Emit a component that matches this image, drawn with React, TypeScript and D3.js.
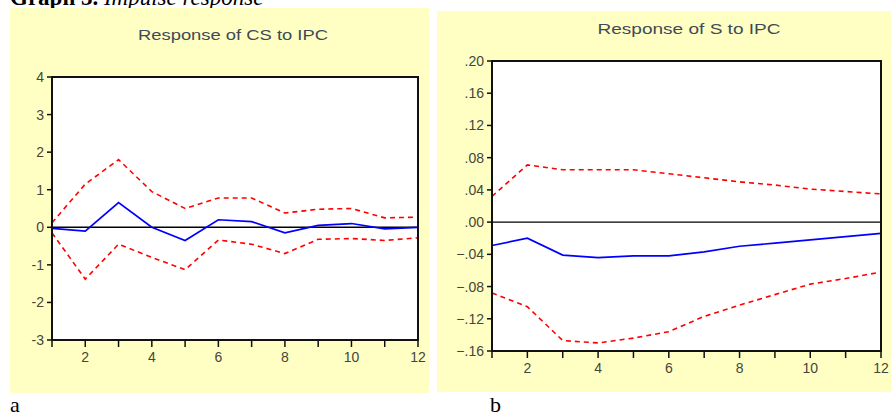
import React from 'react';
import * as d3 from 'd3';

// периоды
const periods = [1, 2, 3, 4, 5, 6, 7, 8, 9, 10, 11, 12];

// Response of CS to IPC
const csResp = [-0.03, -0.1, 0.66, 0.0, -0.35, 0.2, 0.15, -0.15, 0.05, 0.1, -0.04, 0.0];
const csUpper = [0.12, 1.15, 1.8, 0.95, 0.5, 0.78, 0.78, 0.38, 0.48, 0.5, 0.25, 0.27];
const csLower = [-0.15, -1.38, -0.45, -0.8, -1.13, -0.34, -0.45, -0.7, -0.32, -0.3, -0.35, -0.28];
const csTicks = [-3, -2, -1, 0, 1, 2, 3, 4];

// Response of S to IPC
const sResp = [-0.029, -0.02, -0.041, -0.044, -0.042, -0.042, -0.037, -0.03, -0.026, -0.022, -0.018, -0.014];
const sUpper = [0.032, 0.071, 0.065, 0.065, 0.065, 0.06, 0.055, 0.05, 0.046, 0.041, 0.038, 0.035];
const sLower = [-0.088, -0.105, -0.147, -0.15, -0.144, -0.136, -0.117, -0.103, -0.09, -0.077, -0.07, -0.062];
const sTicks = [-0.16, -0.12, -0.08, -0.04, 0, 0.04, 0.08, 0.12, 0.16, 0.2];

const xLabels = [2, 4, 6, 8, 10, 12];

const fmtS = (v: number) => {
  if (Math.abs(v) < 1e-9) return '.00';
  return d3.format('.2f')(v).replace('0.', '.');
};

const sans = "'Liberation Sans', Arial, sans-serif";
const serif = "'Liberation Serif', 'Times New Roman', serif";

type PanelProps = {
  title: string;
  titleW: number;
  bg: [number, number, number, number];
  plot: [number, number, number, number]; // left, top, right, bottom
  titleX: number;
  titleY: number;
  yDomain: [number, number];
  yTicks: number[];
  fmt: (v: number) => string;
  resp: number[];
  upper: number[];
  lower: number[];
};

function Panel(p: PanelProps) {
  const [l, t, r, b] = p.plot;
  const x = d3.scaleLinear().domain([1, 12]).range([l, r]);
  const y = d3.scaleLinear().domain(p.yDomain).range([b, t]);
  const line = d3
    .line<number>()
    .x((_, i) => x(periods[i]))
    .y(d => y(d));
  const txt = '#45453a';
  return (
    <g>
      <rect x={p.bg[0]} y={p.bg[1]} width={p.bg[2]} height={p.bg[3]} fill="#ffffc4" />
      <text
        x={p.titleX}
        y={p.titleY}
        textAnchor="middle"
        fontFamily={sans}
        fontSize={15}
        textLength={p.titleW}
        lengthAdjust="spacingAndGlyphs"
        fill="#3e4a55"
      >
        {p.title}
      </text>
      <rect x={l} y={t} width={r - l} height={b - t} fill="#fff" />
      {/* нулевая линия */}
      <line x1={l} x2={r} y1={y(0)} y2={y(0)} stroke="#000" strokeWidth={1.4} />
      <path d={line(p.upper) || ''} fill="none" stroke="#ff0000" strokeWidth={1.6} strokeDasharray="5,4" />
      <path d={line(p.lower) || ''} fill="none" stroke="#ff0000" strokeWidth={1.6} strokeDasharray="5,4" />
      <path d={line(p.resp) || ''} fill="none" stroke="#0000ff" strokeWidth={1.7} />
      <rect x={l} y={t} width={r - l} height={b - t} fill="none" stroke="#111" strokeWidth={2} />
      {/* ось Y */}
      {p.yTicks.map(v => (
        <g key={v}>
          <line x1={l - 5} x2={l} y1={y(v)} y2={y(v)} stroke="#111" strokeWidth={1.5} />
          <text
            x={l - 8}
            y={y(v) + 5}
            textAnchor="end"
            fontFamily={sans}
            fontSize={14}
            fill={txt}
          >
            {p.fmt(v)}
          </text>
        </g>
      ))}
      {/* ось X */}
      {periods.map(v => (
        <line key={v} x1={x(v)} x2={x(v)} y1={b} y2={b + 7} stroke="#111" strokeWidth={1.5} />
      ))}
      {xLabels.map(v => (
        <text
          key={v}
          x={x(v)}
          y={b + 22}
          textAnchor="middle"
          fontFamily={sans}
          fontSize={14}
          fill={txt}
        >
          {v}
        </text>
      ))}
    </g>
  );
}

export default function App() {
  return (
    <svg
      width={891}
      height={416}
      style={{ position: 'fixed', left: 0, top: 0, display: 'block', background: '#fff' }}
    >
      <text x={10} y={5} fontFamily={serif} fontSize={23} fill="#000">
        <tspan fontWeight="bold">Graph 3.</tspan>
        <tspan fontStyle="italic"> Impulse response</tspan>
      </text>
      <Panel
        title="Response of CS to IPC"
        titleW={190}
        bg={[10, 8, 419, 385]}
        plot={[52, 77, 418, 340]}
        titleX={233}
        titleY={40}
        yDomain={[-3, 4]}
        yTicks={csTicks}
        fmt={v => String(v)}
        resp={csResp}
        upper={csUpper}
        lower={csLower}
      />
      <Panel
        title="Response of S to IPC"
        titleW={183}
        bg={[437, 11, 454, 381]}
        plot={[492, 61, 881, 351]}
        titleX={689}
        titleY={34}
        yDomain={[-0.16, 0.2]}
        yTicks={sTicks}
        fmt={fmtS}
        resp={sResp}
        upper={sUpper}
        lower={sLower}
      />
      <text x={10} y={412} fontFamily={serif} fontSize={22} fill="#000">
        a
      </text>
      <text x={490} y={412} fontFamily={serif} fontSize={22} fill="#000">
        b
      </text>
    </svg>
  );
}
